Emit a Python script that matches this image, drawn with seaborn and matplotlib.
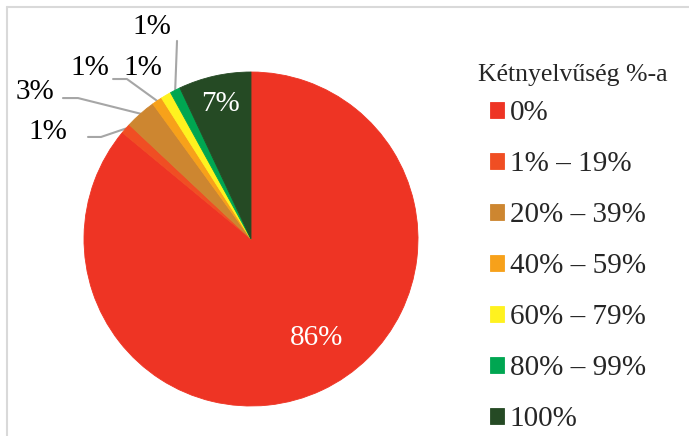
import matplotlib.pyplot as plt
import seaborn as sns
import numpy as np

# data
categories = ['0%', '1% – 19%', '20% – 39%', '40% – 59%', '60% – 79%', '80% – 99%', '100%']
shares = [86, 1, 3, 1, 1, 1, 7]
share_labels = ['86%', '1%', '3%', '1%', '1%', '1%', '7%']
colors = ['#EE3424', '#F04E23', '#CD8630', '#F7A11A', '#FFF21F', '#00A651', '#254A24']
legend_title = 'Kétnyelvűség %-a'

sns.set_theme(style='white')
plt.rcParams['font.family'] = ['Liberation Serif', 'DejaVu Serif']

W, H = 689, 436
fig = plt.figure(figsize=(W / 100, H / 100), dpi=100)
cx, cy, r = 251, 239, 167
ax = fig.add_axes([(cx - r) / W, (H - cy - r) / H, 2 * r / W, 2 * r / H])
wedges, _ = ax.pie(shares, colors=sns.color_palette(colors), startangle=90,
                   counterclock=False, wedgeprops=dict(linewidth=0.6))
for w in wedges:
    # hide antialiasing seams between slices
    w.set_edgecolor(w.get_facecolor())
ax.set_xlim(-1, 1)
ax.set_ylim(-1, 1)
ax.axis('off')

# label placement (data coords of the pie axes), None -> inside label on the wedge
label_pos = [(0.395, -0.593), (-1.216, 0.641), (-1.293, 0.880), (-0.964, 1.024),
             (-0.647, 1.024), (-0.593, 1.269), None]
leader_pts = [None, [(-0.976, 0.611), (-0.898, 0.611)], [(-1.126, 0.844), (-1.036, 0.844)],
              [(-0.826, 0.958), (-0.743, 0.958)], None, [(-0.443, 1.186)], None]

for i, w in enumerate(wedges):
    theta = np.deg2rad((w.theta1 + w.theta2) / 2)
    pos = label_pos[i]
    inside = i in (0, 6)
    if pos is None:
        pos = (0.83 * np.cos(theta), 0.83 * np.sin(theta))
    ax.text(pos[0], pos[1], share_labels[i], ha='center', va='center', fontsize=21,
            color='white' if inside else 'black')
    if leader_pts[i] is not None:
        pts = leader_pts[i] + [(np.cos(theta), np.sin(theta))]
        xs, ys = zip(*pts)
        ax.plot(xs, ys, color='#A6A6A6', lw=1.5, clip_on=False, zorder=0)

fig.text(478 / W, 1 - 75 / H, legend_title, fontsize=18.5, va='center', ha='left')
fig.legend(wedges, categories, loc='upper left', bbox_to_anchor=(490 / W, 1 - 100 / H),
           frameon=False, fontsize=21, handlelength=0.48, handleheight=0.48,
           handletextpad=0.2, labelspacing=0.86, borderaxespad=0, borderpad=0)

# chart area border (only top and left edges visible)
fig.add_artist(plt.Line2D([7 / W, 7 / W], [0, 1 - 7 / H], color='#D9D9D9', lw=1.5,
                          transform=fig.transFigure))
fig.add_artist(plt.Line2D([7 / W, 1], [1 - 7 / H, 1 - 7 / H], color='#D9D9D9', lw=1.5,
                          transform=fig.transFigure))

fig.savefig('out.png', dpi=100)
